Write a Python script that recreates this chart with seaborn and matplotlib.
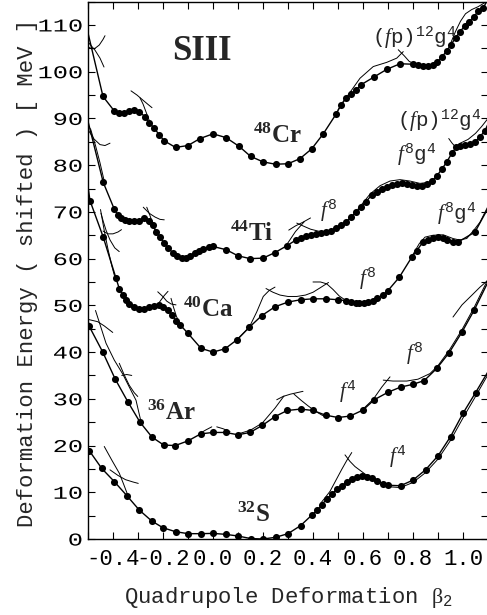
import matplotlib
matplotlib.use("Agg")
import matplotlib.pyplot as plt
from matplotlib.ticker import MultipleLocator, FormatStrFormatter
from matplotlib import patheffects
from matplotlib.transforms import Affine2D
import pandas as pd
import seaborn as sns

# ---------------------------------------------------------------- data
# Mean-field deformation energies (MeV, shifted) versus quadrupole deformation
NUCLEI = ["32S", "36Ar", "40Ca", "44Ti", "48Cr"]

BETA_S32 = [-0.495, -0.445, -0.395, -0.345, -0.295, -0.245, -0.20, -0.15, -0.10, -0.05,
            0.00, 0.05, 0.10, 0.15, 0.20, 0.25, 0.30, 0.35, 0.395, 0.417, 0.435, 0.455,
            0.475, 0.495, 0.515, 0.535, 0.555, 0.575, 0.595, 0.615, 0.635, 0.655, 0.68,
            0.70, 0.75, 0.80, 0.85, 0.90, 0.95, 1.00, 1.05]
E_S32 = [18.9, 15.1, 12.3, 9.3, 6.2, 3.85, 2.4, 1.57, 1.14, 1.14,
         1.2, 1.0, 0.64, 0.1, 0.0, 0.36, 1.14, 2.85, 5.1, 6.2, 7.3, 8.6,
         9.6, 10.6, 11.4, 12.2, 12.8, 13.3, 13.5, 13.3, 13.0, 12.5, 11.8,
         11.5, 11.4, 12.6, 14.8, 17.8, 21.9, 26.9, 31.3]
EDGE_S32 = [19.3, 35.8]

BETA_AR36 = [-0.495, -0.441, -0.391, -0.341, -0.292, -0.244, -0.197, -0.151, -0.10, -0.049,
             0.00, 0.05, 0.10, 0.148, 0.197, 0.248, 0.297, 0.35, 0.40, 0.45, 0.50, 0.548,
             0.60, 0.645, 0.70, 0.75, 0.80, 0.845, 0.895, 0.945, 0.995, 1.045]
E_AR36 = [45.5, 40.0, 34.2, 29.4, 25.0, 21.8, 20.1, 20.0, 21.0, 22.5,
          22.8, 22.8, 22.3, 22.8, 24.3, 26.2, 27.5, 27.8, 27.5, 26.5, 26.0, 26.3,
          27.6, 29.8, 31.4, 32.5, 33.1, 33.9, 36.5, 39.9, 44.2, 49.0]
EDGE_AR36 = [46.9, 55.0]

BETA_CA40 = [-0.492, -0.439, -0.388, -0.375, -0.361, -0.348, -0.335, -0.315, -0.295, -0.275,
             -0.255, -0.235, -0.217, -0.199, -0.181, -0.164, -0.148, -0.131, -0.10, -0.048,
             0.00, 0.048, 0.095, 0.145, 0.195, 0.248, 0.30, 0.35, 0.40, 0.45, 0.50, 0.532,
             0.552, 0.57, 0.585, 0.604, 0.621, 0.639, 0.657, 0.679, 0.699, 0.745, 0.795,
             0.815, 0.839, 0.859, 0.879, 0.899, 0.919, 0.937, 0.959, 0.979, 1.048]
E_CA40 = [72.4, 64.6, 55.8, 53.6, 52.2, 51.1, 50.3, 49.6, 49.2, 49.2,
          49.6, 49.9, 50.1, 49.7, 49.0, 47.9, 46.7, 45.8, 44.0, 40.8,
          40.0, 40.7, 42.6, 45.3, 47.8, 49.7, 50.7, 51.2, 51.4, 51.4, 51.2, 51.0,
          50.8, 50.6, 50.5, 50.5, 50.7, 51.0, 51.5, 52.2, 53.1, 56.0, 60.3,
          61.7, 63.5, 64.0, 64.4, 64.6, 64.4, 64.0, 63.6, 63.5, 65.7]
EDGE_CA40 = [75.4, 70.8]

BETA_TI44 = [-0.439, -0.395, -0.381, -0.368, -0.351, -0.335, -0.315, -0.295, -0.275, -0.257,
             -0.241, -0.228, -0.212, -0.195, -0.179, -0.161, -0.144, -0.125, -0.108, -0.091,
             -0.072, -0.055, -0.039, -0.018, 0.00, 0.053, 0.10, 0.148, 0.20, 0.248, 0.297,
             0.332, 0.352, 0.372, 0.392, 0.412, 0.432, 0.452, 0.472, 0.492, 0.512, 0.532,
             0.552, 0.572, 0.592, 0.612, 0.635, 0.655, 0.675, 0.695, 0.715, 0.735, 0.755,
             0.775, 0.795, 0.815, 0.835, 0.855, 0.875, 0.895, 0.915, 0.935, 0.955, 0.972,
             0.988, 1.008, 1.028, 1.048, 1.068, 1.088]
E_TI44 = [76.3, 70.6, 69.4, 68.6, 68.3, 68.1, 68.1, 68.1, 68.6, 68.1,
          67.2, 65.8, 64.6, 63.3, 62.2, 61.3, 60.6, 60.2, 60.2, 60.6,
          61.1, 61.7, 62.1, 62.5, 62.6, 61.9, 60.6, 60.0, 60.1, 61.3, 62.8,
          64.0, 64.5, 64.9, 65.1, 65.2, 65.5, 65.7, 66.0, 66.5, 67.1, 67.9,
          68.9, 70.0, 71.0, 72.2, 73.6, 74.3, 74.9, 75.4, 75.8, 76.0, 76.1,
          76.0, 75.8, 75.5, 75.5, 75.9, 76.6, 77.7, 79.1, 80.7, 82.5, 83.8,
          84.2, 84.3, 84.5, 85.0, 86.1, 87.4]
EDGE_TI44 = [89.4, 88.8]

BETA_CR48 = [-0.44, -0.395, -0.375, -0.355, -0.335, -0.315, -0.295, -0.272, -0.255, -0.235,
             -0.215, -0.195, -0.15, -0.10, -0.052, 0.00, 0.052, 0.105, 0.15, 0.20, 0.25,
             0.30, 0.348, 0.395, 0.441, 0.492, 0.512, 0.532, 0.552, 0.572, 0.592, 0.645,
             0.695, 0.748, 0.799, 0.819, 0.839, 0.859, 0.879, 0.897, 0.915, 0.934, 0.952,
             0.970, 0.988, 1.006, 1.025, 1.043, 1.061, 1.081]
E_CR48 = [94.7, 91.6, 91.2, 91.2, 91.6, 91.9, 91.4, 90.4, 89.0, 87.9,
          86.5, 85.2, 83.8, 84.2, 85.7, 86.7, 85.9, 84.0, 81.9, 80.7, 80.2,
          80.3, 81.4, 83.5, 86.7, 90.9, 92.9, 94.4, 95.2, 96.1, 97.2, 98.9,
          100.5, 101.7, 101.6, 101.4, 101.2, 101.2, 101.5, 102.1, 103.1, 104.4, 105.8,
          107.2, 108.6, 109.7, 110.7, 111.8, 112.9, 113.6]
EDGE_CR48 = [108.3, 115.6]

# configuration-constrained branches (beta, energy)
ARCS_S32 = [
    [(-0.435, 19.8), (-0.405, 16.9), (-0.375, 14.1), (-0.358, 11.8), (-0.341, 9.4)],
    [(-0.412, 14.8), (-0.38, 13.6), (-0.35, 12.7), (-0.32, 12.2), (-0.299, 11.9)],
    [(0.43, 7.6), (0.448, 8.8), (0.468, 10.2), (0.49, 12.4), (0.515, 14.9), (0.535, 16.8), (0.555, 18.5)],
    [(0.528, 18.0), (0.548, 16.6), (0.568, 15.5), (0.588, 14.7), (0.608, 13.9), (0.628, 13.3)],
    [(0.70, 11.2), (0.75, 11.0), (0.80, 12.1), (0.85, 14.2), (0.90, 17.1), (0.95, 21.1),
     (1.00, 25.9), (1.05, 30.5), (1.10, 35.2)],
]
ARCS_AR36 = [
    [(-0.47, 48.9), (-0.428, 41.9), (-0.395, 38.3), (-0.361, 35.3), (-0.33, 32.0), (-0.308, 29.7), (-0.288, 25.1)],
    [(-0.5, 47.0), (-0.461, 46.5), (-0.435, 45.6), (-0.401, 44.2)],
    [(-0.375, 37.6), (-0.355, 35.1), (-0.335, 32.9), (-0.315, 31.3), (-0.301, 30.5)],
    [(-0.365, 35.0), (-0.345, 35.2), (-0.325, 35.0)],
    [(-0.052, 22.6), (-0.03, 23.3), (-0.005, 24.0)],
    [(0.015, 24.0), (0.04, 23.6), (0.068, 23.0)],
    [(0.108, 22.6), (0.15, 23.3), (0.197, 24.8), (0.248, 28.0), (0.284, 30.6)],
    [(0.255, 29.8), (0.28, 30.5), (0.31, 31.0), (0.335, 31.3), (0.36, 31.6)],
    [(0.324, 31.0), (0.352, 29.7), (0.38, 28.5), (0.408, 27.4), (0.436, 26.5), (0.456, 26.1)],
    [(0.60, 27.8), (0.641, 29.9), (0.675, 32.5), (0.708, 34.7)],
    [(0.681, 34.0), (0.72, 33.8), (0.775, 33.8), (0.82, 34.2), (0.868, 35.4), (0.90, 37.1),
     (0.945, 40.4), (0.995, 44.7), (1.045, 49.6), (1.10, 55.6)],
    [(0.96, 47.5), (0.996, 50.1), (1.036, 52.2), (1.068, 53.9), (1.10, 55.4)],
]
ARCS_CA40 = [
    [(-0.448, 69.7), (-0.438, 67.8), (-0.428, 66.1), (-0.412, 64.0), (-0.393, 62.3), (-0.375, 61.5)],
    [(-0.44, 65.9), (-0.42, 65.3), (-0.40, 65.3), (-0.38, 65.7), (-0.366, 66.2)],
    [(-0.45, 70.5), (-0.435, 66.0), (-0.42, 62.0), (-0.405, 58.5), (-0.39, 55.5)],
    [(-0.221, 52.9), (-0.201, 51.9), (-0.185, 50.9), (-0.168, 50.3), (-0.148, 50.1)],
    [(-0.225, 49.9), (-0.21, 51.0), (-0.195, 52.1), (-0.18, 53.0)],
    [(-0.168, 51.5), (-0.158, 49.6), (-0.146, 47.6), (-0.133, 46.2), (-0.121, 45.2)],
    [(0.10, 42.8), (0.145, 45.3), (0.175, 48.6), (0.201, 51.9), (0.225, 53.2), (0.248, 53.9)],
    [(0.212, 53.6), (0.24, 52.8), (0.268, 52.2), (0.30, 51.9), (0.335, 51.9), (0.37, 52.2),
     (0.40, 52.8), (0.43, 53.8), (0.462, 54.9)],
    [(0.40, 55.0), (0.43, 55.0), (0.455, 54.6), (0.48, 53.4), (0.505, 52.0), (0.53, 51.1)],
    [(0.80, 60.9), (0.825, 63.2), (0.848, 64.6), (0.88, 65.0), (0.921, 65.1), (0.96, 64.3),
     (0.985, 64.0), (1.015, 64.3), (1.045, 66.2), (1.068, 67.8), (1.10, 71.2)],
]
ARCS_TI44 = [
    [(-0.499, 87.5), (-0.476, 85.6), (-0.452, 84.4), (-0.432, 84.2), (-0.412, 84.7)],
    [(-0.49, 87.8), (-0.47, 84.2), (-0.452, 80.5), (-0.436, 76.8)],
    [(-0.279, 71.0), (-0.255, 69.7), (-0.232, 68.9), (-0.212, 68.4), (-0.195, 68.3)],
    [(-0.265, 71.0), (-0.252, 69.2), (-0.238, 67.0), (-0.225, 65.5), (-0.213, 64.5)],
    [(0.303, 66.1), (0.33, 67.0), (0.36, 67.8), (0.39, 68.7)],
    [(0.335, 67.6), (0.36, 67.0), (0.39, 66.3), (0.42, 65.9), (0.44, 65.7)],
    [(0.29, 62.6), (0.31, 64.2), (0.33, 65.8), (0.35, 67.0), (0.365, 67.9)],
    [(0.58, 70.6), (0.628, 73.8), (0.668, 75.6), (0.708, 76.6), (0.748, 76.9), (0.788, 76.6),
     (0.828, 76.1), (0.86, 76.3)],
    [(0.943, 85.7), (0.955, 84.8), (0.968, 84.0), (0.985, 83.6)],
    [(0.985, 84.6), (1.02, 85.5), (1.05, 86.8), (1.075, 88.3), (1.10, 90.0)],
]
ARCS_CR48 = [
    [(-0.499, 105.3), (-0.486, 104.9), (-0.472, 105.0), (-0.455, 105.7), (-0.44, 106.9), (-0.432, 107.7)],
    [(-0.496, 106.1), (-0.472, 104.6), (-0.452, 102.9), (-0.436, 101.0)],
    [(-0.328, 95.9), (-0.304, 95.0), (-0.28, 93.9), (-0.26, 93.0), (-0.244, 92.3)],
    [(-0.292, 94.4), (-0.28, 93.1), (-0.268, 91.4), (-0.256, 89.7), (-0.244, 88.4)],
    [(0.50, 91.8), (0.535, 94.6), (0.588, 98.6), (0.641, 101.1), (0.695, 102.0), (0.735, 102.9), (0.761, 104.3)],
    [(0.741, 104.7), (0.765, 103.4), (0.785, 102.2), (0.801, 101.8), (0.82, 101.4)],
    [(0.95, 106.0), (0.97, 108.6), (0.99, 110.8), (1.01, 112.4), (1.035, 113.3), (1.06, 113.9),
     (1.085, 114.7), (1.10, 115.6)],
]

# nucleus labels: (text, beta, energy of baseline)
LABEL_TEXT = [r"$^{\mathbf{32}}$S", r"$^{\mathbf{36}}$Ar", r"$^{\mathbf{40}}$Ca",
              r"$^{\mathbf{44}}$Ti", r"$^{\mathbf{48}}$Cr"]
LABEL_BETA = [0.096, -0.264, -0.12, 0.068, 0.159]
LABEL_E = [3.7, 25.5, 47.5, 63.7, 84.7]

# configuration labels
CONF_TEXT = [r"($f$p)$^{12}$g$^4$", r"($f$p)$^{12}$g$^4$", r"$f^8$g$^4$", r"$f^8$",
             r"$f^8$g$^4$", r"$f^8$", r"$f^8$", r"$f^4$", r"$f^4$"]
CONF_BETA = [0.635, 0.735, 0.735, 0.43, 0.895, 0.585, 0.772, 0.505, 0.705]
CONF_E = [106.2, 88.4, 81.0, 69.0, 68.4, 54.6, 38.5, 30.3, 16.4]

X_TICKS = [-0.4, -0.2, 0.0, 0.2, 0.4, 0.6, 0.8, 1.0]
Y_TICKS = [0, 10, 20, 30, 40, 50, 60, 70, 80, 90, 100, 110]

# ---------------------------------------------------------------- frames
dots = {
    "32S": (BETA_S32, E_S32, EDGE_S32),
    "36Ar": (BETA_AR36, E_AR36, EDGE_AR36),
    "40Ca": (BETA_CA40, E_CA40, EDGE_CA40),
    "44Ti": (BETA_TI44, E_TI44, EDGE_TI44),
    "48Cr": (BETA_CR48, E_CR48, EDGE_CR48),
}
dot_rows, line_rows = [], []
for name in NUCLEI:
    b, e, edge = dots[name]
    for bi, ei in zip(b, e):
        dot_rows.append((name, bi, ei))
    line_rows.append((name, -0.5, edge[0]))
    line_rows += [(name, bi, ei) for bi, ei in zip(b, e)]
    line_rows.append((name, 1.1, edge[1]))
dot_df = pd.DataFrame(dot_rows, columns=["nucleus", "beta", "energy"])
line_df = pd.DataFrame(line_rows, columns=["nucleus", "beta", "energy"])

arc_rows = []
k = 0
for arcs in (ARCS_S32, ARCS_AR36, ARCS_CA40, ARCS_TI44, ARCS_CR48):
    for arc in arcs:
        arc_rows += [(k, bx, ey) for bx, ey in arc]
        k += 1
arc_df = pd.DataFrame(arc_rows, columns=["arc", "beta", "energy"])

# ---------------------------------------------------------------- style
sns.set_theme(style="white")
plt.rcParams.update({
    "font.family": ["Liberation Mono", "DejaVu Sans"],
    "mathtext.fontset": "custom",
    "mathtext.rm": "Liberation Mono",
    "mathtext.it": "Liberation Serif:italic",
    "mathtext.bf": "Liberation Serif:bold",
    "mathtext.sf": "Liberation Serif",
    "axes.unicode_minus": False,
    "axes.edgecolor": "black",
    "axes.linewidth": 1.0,
    "xtick.direction": "in",
    "ytick.direction": "in",
    "xtick.top": True,
    "xtick.bottom": True,
    "ytick.left": True,
    "ytick.right": True,
    "xtick.color": "black",
    "ytick.color": "black",
})


class Widen(patheffects.AbstractPathEffect):
    """Stretch glyphs horizontally about their right edge."""

    def __init__(self, factor):
        super().__init__()
        self.factor = factor

    def draw_path(self, renderer, gc, tpath, affine, rgbFace=None):
        right = affine.transform(tpath.vertices)[:, 0].max()
        stretch = Affine2D().translate(-right, 0).scale(self.factor, 1).translate(right, 0)
        renderer.draw_path(gc, tpath, affine + stretch, rgbFace)


fig = plt.figure(figsize=(4.87, 6.15), dpi=100)
ax = fig.add_axes([88 / 487, 76 / 615, 400 / 487, 537.4 / 615])

sns.lineplot(data=line_df, x="beta", y="energy", units="nucleus", estimator=None,
             sort=False, color="black", lw=1.0, ax=ax, legend=False)
sns.lineplot(data=arc_df, x="beta", y="energy", units="arc", estimator=None,
             sort=False, color="black", lw=0.7, ax=ax, legend=False)
sns.scatterplot(data=dot_df, x="beta", y="energy", color="black", s=26,
                linewidth=0, ax=ax, zorder=3, legend=False)

ax.set_xlim(-0.5, 1.1)
ax.set_ylim(0, 115)
ax.set_xticks(X_TICKS)
ax.set_yticks(Y_TICKS)
ax.xaxis.set_minor_locator(MultipleLocator(0.1))
ax.yaxis.set_minor_locator(MultipleLocator(5))
ax.xaxis.set_major_formatter(FormatStrFormatter("%.1f"))
ax.tick_params(which="both", length=5, width=0.8)
ax.tick_params(axis="x", labelsize=16, pad=7)
ax.tick_params(axis="y", labelsize=13, pad=4)

ax.set_xlabel(r"Quadrupole Deformation $\mathsf{\beta}_2$", fontsize=16, labelpad=11)
ax.set_ylabel("Deformation Energy ( shifted ) [ MeV ]", fontsize=16)
ax.yaxis.set_label_coords(-0.125, 0.495)

ax.text(-0.164, 102.5, "SIII", fontsize=25, fontweight="bold",
        family="Liberation Serif", ha="left", va="baseline")
for t, b, e in zip(LABEL_TEXT, LABEL_BETA, LABEL_E):
    ax.text(b, e, t, fontsize=18, fontweight="bold", family="Liberation Serif",
            ha="left", va="baseline")
for t, b, e in zip(CONF_TEXT, CONF_BETA, CONF_E):
    ax.text(b, e, t, fontsize=15, ha="left", va="baseline")

fig.canvas.draw()
for tick in ax.yaxis.get_major_ticks():
    tick.label1.set_path_effects([Widen(1.4)])

fig.savefig("out.png", dpi=100)
